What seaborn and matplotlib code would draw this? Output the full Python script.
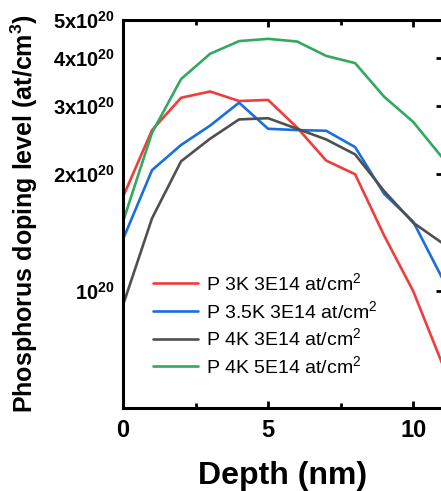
from matplotlib import pyplot as plt
import pandas as pd
import seaborn as sns
import numpy as np

# depth profile data
depth = [0, 1, 2, 3, 4, 5, 6, 7, 8, 9, 10, 11]
p_3k_3e14 = [1.75e20, 2.60e20, 3.15e20, 3.27e20, 3.09e20, 3.11e20, 2.64e20, 2.17e20, 2.00e20, 1.39e20, 1.00e20, 6.5e19]
p_35k_3e14 = [1.36e20, 2.05e20, 2.38e20, 2.67e20, 3.06e20, 2.62e20, 2.60e20, 2.59e20, 2.35e20, 1.78e20, 1.51e20, 1.08e20]
p_4k_3e14 = [9.2e19, 1.54e20, 2.16e20, 2.47e20, 2.77e20, 2.79e20, 2.62e20, 2.46e20, 2.25e20, 1.81e20, 1.50e20, 1.33e20]
p_4k_5e14 = [1.51e20, 2.56e20, 3.52e20, 4.09e20, 4.41e20, 4.47e20, 4.40e20, 4.04e20, 3.87e20, 3.17e20, 2.73e20, 2.21e20]

labels = ["P 3K 3E14 at/cm$^2$", "P 3.5K 3E14 at/cm$^2$", "P 4K 3E14 at/cm$^2$", "P 4K 5E14 at/cm$^2$"]
colors = ["#f03c3c", "#1a6fe0", "#505050", "#33a860"]

yticks = [1e20, 2e20, 3e20, 4e20, 5e20]
yticklabels = ["10$^{20}$", "2x10$^{20}$", "3x10$^{20}$", "4x10$^{20}$", "5x10$^{20}$"]

frames = []
for lab, vals in zip(labels, [p_3k_3e14, p_35k_3e14, p_4k_3e14, p_4k_5e14]):
    frames.append(pd.DataFrame({"Depth": depth, "Conc": vals, "Sample": lab}))
df = pd.concat(frames, ignore_index=True)

sns.set_style("ticks")
plt.rcParams['font.family'] = ['Liberation Sans', 'DejaVu Sans']
plt.rcParams['mathtext.default'] = 'regular'
for k in ['text.color', 'axes.labelcolor', 'xtick.color', 'ytick.color', 'axes.edgecolor']:
    plt.rcParams[k] = 'black'

f = plt.figure(figsize=(4.41, 4.91), dpi=100)
ax = f.add_axes([0.279, 0.1697, 0.7256, 0.7896])
sns.lineplot(data=df, x="Depth", y="Conc", hue="Sample", palette=colors, linewidth=1.9, ax=ax)

ax.set_yscale("log")
ax.set_ylim(5e19, 5e20)
ax.set_xlim(0, 11.03)
ax.set_yticks(yticks)
ax.set_yticklabels(yticklabels, fontsize=14.5, fontweight="bold")
ax.yaxis.set_minor_locator(plt.NullLocator())
ax.set_xticks([0, 5, 10])
ax.set_xticks([2.5, 7.5], minor=True)
ax.set_xticklabels(["0", "5", "10"], fontsize=17, fontweight="bold")

ax.tick_params(axis="y", which="both", left=False, right=True, labelleft=True, direction="in",
               length=5, width=2, pad=6)
ax.tick_params(axis="x", which="major", top=True, bottom=True, direction="in", length=5, width=2, pad=8)
ax.tick_params(axis="x", which="minor", top=True, bottom=True, direction="in", length=3.5, width=2)

for s in ax.spines.values():
    s.set_linewidth(2.2)
    s.set_visible(True)

ax.set_xlabel("Depth (nm)", fontsize=23, fontweight="bold")
ax.set_ylabel("Phosphorus doping level (at/cm$^3$)", fontsize=18, fontweight="bold")
ax.xaxis.set_label_coords(0.5, -0.137)
ax.yaxis.set_label_coords(-0.258, 0.5)

ax.legend(loc="upper left", bbox_to_anchor=(0.094, 0.35), frameon=False, fontsize=14,
          handlelength=2.3, handletextpad=0.4, labelspacing=0.3, borderaxespad=0, borderpad=0)

f.savefig("out.png", dpi=100)
